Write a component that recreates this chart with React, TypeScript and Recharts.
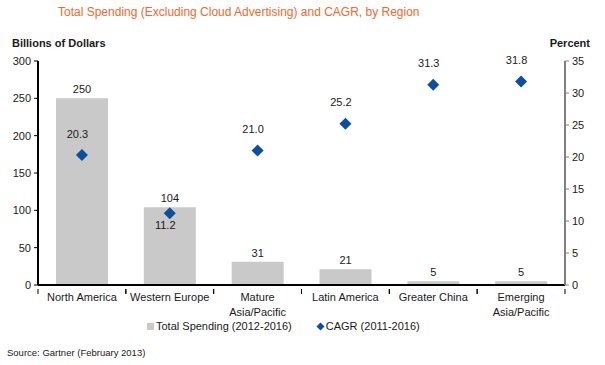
import React from "react";
import { ComposedChart, Bar, Scatter, XAxis, YAxis, Legend, LabelList } from "recharts";

const regions = ["North America", "Western Europe", "Mature Asia/Pacific", "Latin America", "Greater China", "Emerging Asia/Pacific"];
const spending = [250, 104, 31, 21, 5, 5];
const cagr = [20.3, 11.2, 21.0, 25.2, 31.3, 31.8];
const cagrLabelBelow = [false, true, false, false, false, false];
const leftTicks = [0, 50, 100, 150, 200, 250, 300];
const rightTicks = [0, 5, 10, 15, 20, 25, 30, 35];

const data = regions.map((r, i) => ({ region: r, spending: spending[i], cagr: cagr[i] }));

const FONT = "'Liberation Sans', Arial, sans-serif";
const TEXT = "#1a1a1a";
const BAR = "#c9c9c9";
const DIAMOND = "#0b4f9e";

const XTick = (props: any) => {
  const { x, y, payload } = props;
  const v: string = payload.value;
  const m = v.match(/^(\S+) (\S+\/\S+)$/);
  const lines = m ? [m[1], m[2]] : [v];
  const half = payload.offset ?? 43.75;
  return (
    <g>
      <line x1={x - half} y1={y - 4} x2={x - half} y2={y + 1} stroke="#000" strokeWidth={1} />
      <line x1={x + half} y1={y - 4} x2={x + half} y2={y + 1} stroke="#000" strokeWidth={1} />
      <text x={x} y={y + 8} textAnchor="middle" fontSize={11} fill={TEXT} fontFamily={FONT}>
        {lines.map((l, i) => (
          <tspan key={i} x={x} dy={i === 0 ? 0 : 15}>{l}</tspan>
        ))}
      </text>
    </g>
  );
};

const DiamondShape = (props: any) => {
  const { cx, cy } = props;
  const r = 6;
  return <path d={`M${cx},${cy - r}L${cx + r},${cy}L${cx},${cy + r}L${cx - r},${cy}Z`} fill={DIAMOND} />;
};

const CagrLabel = (props: any) => {
  const { x, y, value, index } = props;
  const below = cagrLabelBelow[index];
  return (
    <text x={x} y={below ? y + 20 : y - 13} textAnchor="middle" fontSize={11} fill={TEXT} fontFamily={FONT}>
      {Number(value).toFixed(1)}
    </text>
  );
};

const LegendContent = () => (
  <div style={{ display: "flex", justifyContent: "flex-start", fontFamily: FONT, fontSize: 11, color: TEXT, paddingLeft: 147 }}>
    <span style={{ display: "flex", alignItems: "center", marginRight: 24 }}>
      <span style={{ display: "inline-block", width: 7, height: 7, background: BAR, marginRight: 2 }} />
      Total Spending (2012-2016)
    </span>
    <span style={{ display: "flex", alignItems: "center" }}>
      <svg width={9} height={9} style={{ marginRight: 1 }}>
        <path d="M4.5,0.5L8.5,4.5L4.5,8.5L0.5,4.5Z" fill={DIAMOND} />
      </svg>
      CAGR (2011-2016)
    </span>
  </div>
);

export default function App() {
  return (
    <div style={{ position: "absolute", left: 0, top: 0, width: 605, height: 365, background: "#fff", fontFamily: FONT }}>
      <div style={{ position: "absolute", left: 58, top: 5, fontSize: 12, color: "#ee6a2e" }}>
        Total Spending (Excluding Cloud Advertising) and CAGR, by Region
      </div>
      <div style={{ position: "absolute", left: 12, top: 37, fontSize: 11, fontWeight: "bold", color: TEXT }}>Billions of Dollars</div>
      <div style={{ position: "absolute", right: 15, top: 37, fontSize: 11, fontWeight: "bold", color: TEXT }}>Percent</div>
      <div style={{ position: "absolute", left: 7, top: 347, fontSize: 9.5, color: TEXT }}>Source: Gartner (February 2013)</div>
      <ComposedChart
        width={605}
        height={365}
        data={data}
        margin={{ top: 61, right: 0, bottom: 50, left: 0 }}
        barCategoryGap="20%"
      >
        <XAxis
          dataKey="region"
          axisLine={{ stroke: "#000", strokeWidth: 2 }}
          tickLine={false}
          tick={<XTick />}
          interval={0}
          height={30}
        />
        <YAxis
          yAxisId="left"
          domain={[0, 300]}
          ticks={leftTicks}
          width={38}
          axisLine={{ stroke: "#000", strokeWidth: 2 }}
          tickLine={{ stroke: "#000" }}
          tickSize={4}
          tick={{ fontSize: 11, fill: TEXT, fontFamily: FONT }}
          tickMargin={3}
          interval={0}
        />
        <YAxis
          yAxisId="right"
          orientation="right"
          domain={[0, 35]}
          ticks={rightTicks}
          width={40}
          axisLine={{ stroke: "#808080", strokeWidth: 2 }}
          tickLine={{ stroke: "#808080" }}
          tickSize={4}
          tick={{ fontSize: 11, fill: TEXT, fontFamily: FONT }}
          tickMargin={3}
          interval={0}
        />
        <Bar yAxisId="left" dataKey="spending" name="Total Spending (2012-2016)" fill={BAR} isAnimationActive={false} barSize={52}>
          <LabelList dataKey="spending" position="top" offset={5} fontSize={11} fill={TEXT} fontFamily={FONT} />
        </Bar>
        <Scatter yAxisId="right" dataKey="cagr" name="CAGR (2011-2016)" fill={DIAMOND} shape={<DiamondShape />} isAnimationActive={false}>
          <LabelList dataKey="cagr" content={<CagrLabel />} />
        </Scatter>
        <Legend
          layout="horizontal"
          verticalAlign="middle"
          align="center"
          content={<LegendContent />}
          wrapperStyle={{ top: 320, left: 0, width: 605 }}
        />
      </ComposedChart>
    </div>
  );
}
